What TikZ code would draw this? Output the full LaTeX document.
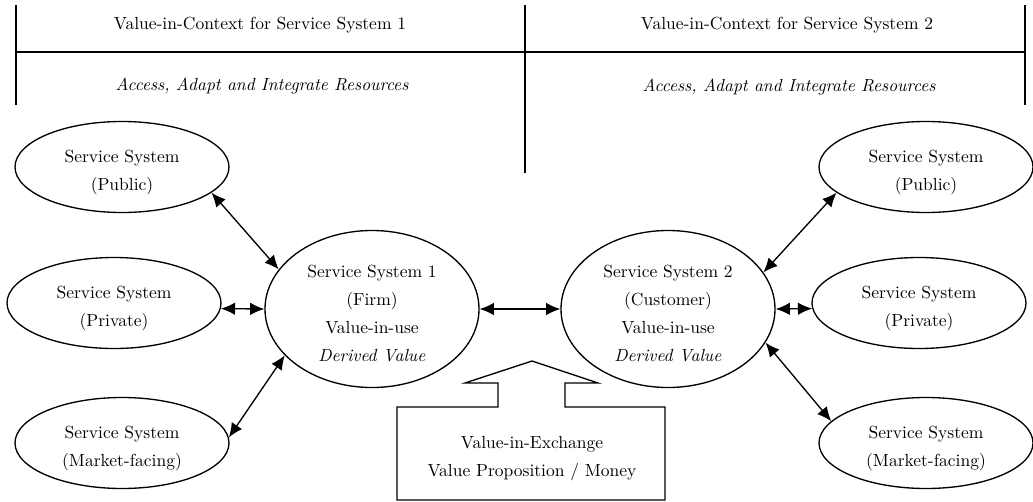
\documentclass[tikz,border=0pt]{standalone}
\usetikzlibrary{arrows.meta,shapes.geometric}
\begin{document}
\begin{tikzpicture}[x=0.6pt,y=-0.6pt,
  every node/.style={font=\fontsize{10.5}{16.8}\selectfont},
  sys/.style={draw,ellipse,line width=0.8pt,inner sep=0pt,minimum width=128.4pt,minimum height=54.6pt},
  core/.style={draw,ellipse,line width=0.8pt,inner sep=0pt,minimum width=128.4pt,minimum height=94.2pt},
  conn/.style={line width=0.8pt,{Latex[length=8.5pt,width=7.5pt]}-{Latex[length=8.5pt,width=7.5pt]}},
  frame/.style={line width=0.8pt},
  lbl/.style={inner sep=0pt,align=center}]
\useasboundingbox (0,0) rectangle (1033,501);
% header frame
\draw[frame] (16,52) -- (1025,52);
\draw[frame] (16,5) -- (16,105);
\draw[frame] (525,5) -- (525,173);
\draw[frame] (1025,5) -- (1025,105);
\node[lbl] (h1) at (260,25) {Value-in-Context for Service System 1};
\node[lbl] (a1) at (262,86) {\itshape Access, Adapt and Integrate Resources};
\node[lbl] (h2) at (787,25) {Value-in-Context for Service System 2};
\node[lbl] (a2) at (789,87) {\itshape Access, Adapt and Integrate Resources};
% ellipses
\node[sys] (pub1) at (122,167) {};
\node[sys] (pri1) at (114,303) {};
\node[sys] (mkt1) at (122,443) {};
\node[core] (ss1) at (372,309) {};
\node[core] (ss2) at (668,309) {};
\node[sys] (pub2) at (926,167) {};
\node[sys] (pri2) at (919,303) {};
\node[sys] (mkt2) at (926,443) {};
% ellipse texts
\node[lbl] (pub1t) at (122,173) {Service System\\(Public)};
\node[lbl] (pri1t) at (114,309) {Service System\\(Private)};
\node[lbl] (mkt1t) at (122,449) {Service System\\(Market-facing)};
\node[lbl] (ss1t) at (372,314) {Service System 1\\(Firm)\\Value-in-use\\\textit{Derived Value}};
\node[lbl] (ss2t) at (668,314) {Service System 2\\(Customer)\\Value-in-use\\\textit{Derived Value}};
\node[lbl] (pub2t) at (926,173) {Service System\\(Public)};
\node[lbl] (pri2t) at (919,309) {Service System\\(Private)};
\node[lbl] (mkt2t) at (926,449) {Service System\\(Market-facing)};
% connectors
\draw[conn] (pub1.-16.5) -- (ss1.157.7);
\draw[conn] (pri1.-3) -- (ss1.west);
\draw[conn] (mkt1.3.4) -- (ss1.208.7);
\draw[conn] (ss1.east) -- (ss2.west);
\draw[conn] (ss2.21.9) -- (pub2.196.9);
\draw[conn] (ss2.east) -- (pri2.183);
\draw[conn] (ss2.-19.3) -- (mkt2.167.7);
% block arrow
\draw[frame] (397,500) -- (397,407) -- (498,407) -- (498,383) -- (465,383) -- (532,361)
  -- (598,383) -- (565,383) -- (565,407) -- (665,407) -- (665,500) -- cycle;
\node[lbl] (exch) at (532,459) {Value-in-Exchange\\Value Proposition / Money};
\end{tikzpicture}
\end{document}
